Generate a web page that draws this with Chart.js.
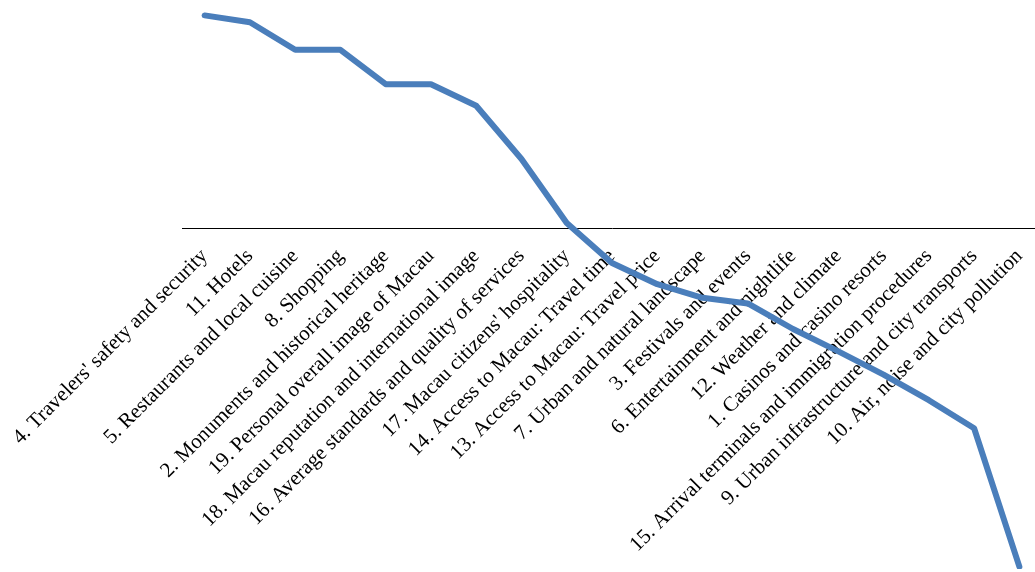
<!DOCTYPE html>
<html>
<head>
<meta charset="utf-8">
<title>Attribute gaps</title>
<script src="https://cdn.jsdelivr.net/npm/chart.js@4/dist/chart.umd.min.js"></script>
<style>
    html, body { margin: 0; padding: 0; background: #fff; overflow: hidden; }
    #wrap { width: 1035px; height: 572px; overflow: hidden; }
</style>
</head>
<body>
<div id="wrap"><canvas id="gapChart" width="1045" height="572"></canvas></div>
<script>
// attributes, sorted as in the picture
var attributes = [
    "4. Travelers' safety and security",
    '11. Hotels',
    '5. Restaurants and local cuisine',
    '8. Shopping',
    '2. Monuments and historical heritage',
    '19. Personal overall image of Macau',
    '18. Macau reputation and international image',
    '16. Average standards and quality of services',
    "17. Macau citizens' hospitality",
    '14. Access to Macau: Travel time',
    '13. Access to Macau: Travel price',
    '7. Urban and natural landscape',
    '3. Festivals and events',
    '6. Entertainment and nightlife',
    '12. Weather and climate',
    '1. Casinos and casino resorts',
    '15. Arrival terminals and immigration procedures',
    '9. Urban infrastructure and city transports',
    '10. Air, noise and city pollution'
];

// values (no y axis shown)
var gapValues = [0.534, 0.517, 0.448, 0.448, 0.362, 0.362, 0.308, 0.175, 0.015,
    -0.085, -0.138, -0.172, -0.186, -0.25, -0.306, -0.364, -0.428, -0.498, -0.844];

var yMin = -0.85;
var yMax = 0.55;

var gapChart = new Chart(document.getElementById('gapChart').getContext('2d'), {
    type: 'line',
    data: {
        labels: attributes,
        datasets: [{
            data: gapValues,
            borderColor: '#4a7ebb',
            borderWidth: 6,
            borderJoinStyle: 'round',
            borderCapStyle: 'round',
            pointRadius: 0,
            tension: 0,
            fill: false
        }]
    },
    options: {
        responsive: false,
        animation: false,
        devicePixelRatio: 1,
        layout: { padding: { left: 182, right: 3, top: 9, bottom: 3 } },
        plugins: { legend: { display: false }, tooltip: { enabled: false } },
        scales: {
            x: {
                position: { y: 0 },
                offset: true,
                grid: { display: false, drawTicks: false },
                border: { display: true, color: '#000', width: 1 },
                ticks: {
                    autoSkip: false,
                    minRotation: 45,
                    maxRotation: 45,
                    padding: 15,
                    color: '#000',
                    font: { family: "'Liberation Serif', 'Times New Roman', serif", size: 21 }
                },
                // labels may hang outside, the layout padding decides the plot edges
                afterFit: function(scale) {
                    scale.paddingLeft = 0;
                    scale.paddingRight = 0;
                }
            },
            y: { display: false, min: yMin, max: yMax }
        }
    }
});
</script>
</body>
</html>
